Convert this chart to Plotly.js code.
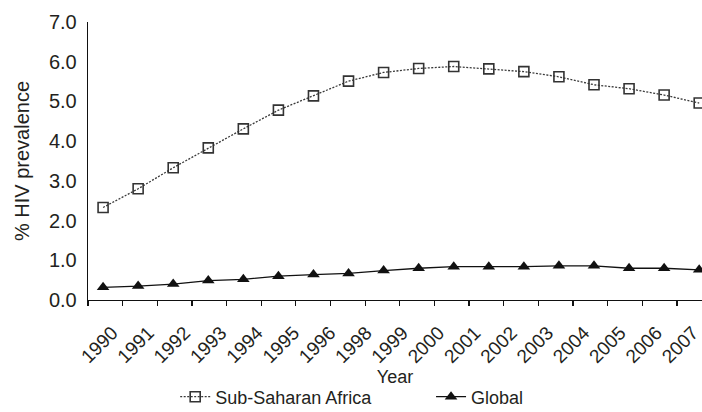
<!DOCTYPE html>
<html>
<head>
<meta charset="utf-8">
<script src="https://cdn.plot.ly/plotly-3.0.1.min.js"></script>
<style>
  html, body { margin: 0; padding: 0; background: #fff; }
  #chart { width: 702px; height: 412px; }
</style>
</head>
<body>
<div id="chart"></div>
<script>
// Data points (18 yearly estimates)
const pointIndex = [0, 1, 2, 3, 4, 5, 6, 7, 8, 9, 10, 11, 12, 13, 14, 15, 16, 17];
const subSaharanAfrica = [2.33, 2.80, 3.33, 3.83, 4.31, 4.78, 5.14, 5.51, 5.73, 5.83, 5.88, 5.82, 5.75, 5.62, 5.42, 5.32, 5.16, 4.96];
const globalPrev = [0.32, 0.35, 0.40, 0.49, 0.52, 0.60, 0.64, 0.67, 0.74, 0.80, 0.84, 0.84, 0.84, 0.86, 0.86, 0.80, 0.80, 0.76];
// Tick labels as printed on the figure (1997 is not printed)
const tickLabels = ["1990", "1991", "1992", "1993", "1994", "1995", "1996", "1998", "1999", "2000", "2001", "2002", "2003", "2004", "2005", "2006", "2007"];
const yTicks = [0, 1, 2, 3, 4, 5, 6, 7];

// Layout helpers: label positions spread evenly over the axis, tick marks at category boundaries
const labelPos = tickLabels.map((_, i) => 0.26 + i * 1.035);
const boundaryTicks = pointIndex.map(i => -0.43 + i * 0.988);

const txt = '#231f20';
const fontFam = '"Liberation Sans", Arial, Helvetica, sans-serif';

const traces = [
  {
    x: pointIndex, y: subSaharanAfrica, name: 'Sub-Saharan Africa', legend: 'legend',
    type: 'scatter', mode: 'lines+markers',
    line: { color: '#3a3a3a', width: 1.3, dash: '2px,1.5px' },
    marker: { symbol: 'square-open', size: 10, color: '#333333', line: { width: 1.6, color: '#333333' } }
  },
  {
    x: pointIndex, y: globalPrev, name: 'Global', legend: 'legend2',
    type: 'scatter', mode: 'lines+markers',
    line: { color: '#111111', width: 1.3 },
    marker: { symbol: 'triangle-up', size: 11, color: '#111111' }
  }
];

const legendBase = {
  orientation: 'h', xanchor: 'left', y: -0.349, yanchor: 'middle',
  font: { size: 18, color: txt, family: fontFam },
  bgcolor: 'rgba(0,0,0,0)', borderwidth: 0, itemwidth: 30
};

const layout = {
  width: 702, height: 412,
  margin: { l: 88, r: 0, t: 22, b: 112, autoexpand: false },
  paper_bgcolor: '#ffffff', plot_bgcolor: '#ffffff',
  font: { family: fontFam, color: txt, size: 19 },
  showlegend: true,
  legend: Object.assign({}, legendBase, { x: 0.142 }),
  legend2: Object.assign({}, legendBase, { x: 0.5587 }),
  xaxis: {
    type: 'linear', range: [-0.43, 17.08], automargin: true,
    showgrid: false, zeroline: false,
    showline: true, linecolor: '#111', linewidth: 1.3,
    tickmode: 'array', tickvals: labelPos, ticktext: tickLabels,
    ticks: '', tickangle: -45, ticklabelstandoff: 13, ticklabeloverflow: 'allow',
    tickfont: { size: 19, color: txt, family: fontFam },
    minor: { tickmode: 'array', tickvals: boundaryTicks, ticks: 'outside', ticklen: 5, tickwidth: 1.2, tickcolor: '#111', showgrid: false },
    title: { text: 'Year', font: { size: 18, color: txt, family: fontFam }, standoff: 1 }
  },
  yaxis: {
    range: [0, 7], automargin: true, showgrid: false, zeroline: false,
    showline: true, linecolor: '#111', linewidth: 1.3,
    tickmode: 'array', tickvals: yTicks, ticktext: yTicks.map(v => v.toFixed(1)),
    ticks: '', ticklabelstandoff: 6,
    tickfont: { size: 20, color: txt, family: fontFam },
    title: { text: '% HIV prevalence', font: { size: 20, color: txt, family: fontFam }, standoff: 14 }
  }
};

Plotly.newPlot('chart', traces, layout, { displayModeBar: false, staticPlot: true });
</script>
</body>
</html>
